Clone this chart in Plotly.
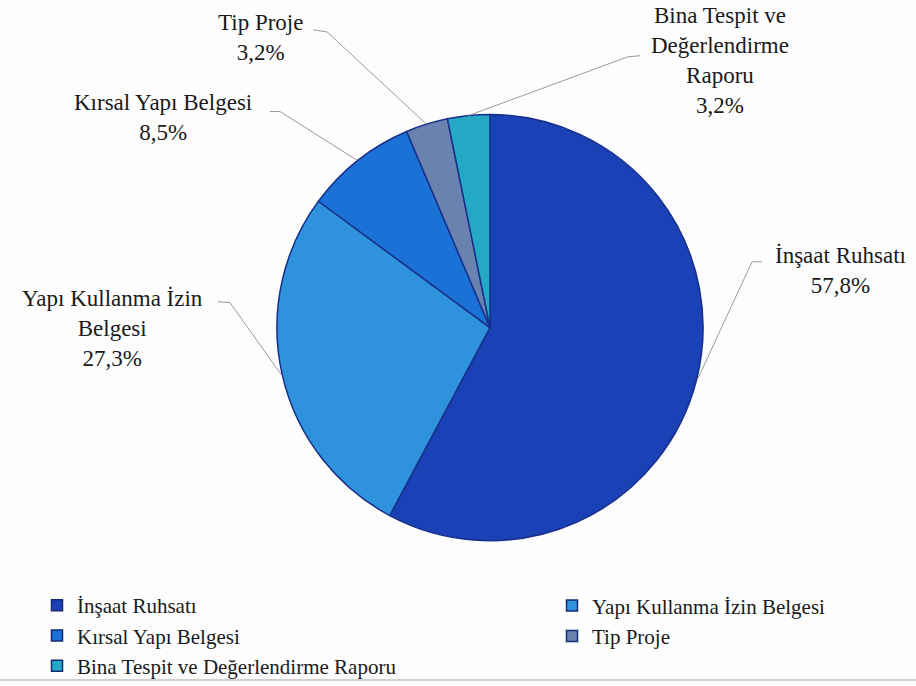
import math
import plotly.graph_objects as go

# Permit types and their shares (%)
categories = ["İnşaat Ruhsatı", "Yapı Kullanma İzin Belgesi", "Kırsal Yapı Belgesi",
              "Tip Proje", "Bina Tespit ve Değerlendirme Raporu"]
shares = [57.8, 27.3, 8.5, 3.2, 3.2]
label_texts = ["İnşaat Ruhsatı", "Yapı Kullanma İzin<br>Belgesi", "Kırsal Yapı Belgesi",
               "Tip Proje", "Bina Tespit ve<br>Değerlendirme<br>Raporu"]
colors = ["#1a42b6", "#2e93dc", "#1a72d6", "#6a82b0", "#25a8c6"]
legend_column = ["legend", "legend2", "legend", "legend2", "legend"]

W, H = 916, 686
CX, CY, R = 490, 329, 214  # pie centre and radius in pixels
SERIF = "Liberation Serif, Times New Roman, serif"

# text block centre and leader-line elbow / end (pixels) for each outside label
label_pos = [(840, 272), (112, 330), (163, 118), (260, 38), (720, 61)]
elbows = [((752, 263), (762, 263)), ((230, 304), (218, 303)), ((280, 112), (270, 112)),
          ((327, 32), (313, 30)), ((628, 57), (640, 56))]


def px(x):
    return x / W


def py(y):
    return 1 - y / H


fig = go.Figure(go.Pie(
    labels=categories,
    values=shares,
    sort=False,
    direction="clockwise",
    rotation=0,
    textinfo="none",
    hoverinfo="label+percent",
    showlegend=False,
    marker=dict(colors=colors, line=dict(color="#18308a", width=1.5)),
    domain=dict(x=[px(CX - R), px(CX + R)], y=[py(CY + R), py(CY - R)]),
))

# legend entries, laid out in two columns
for cat, col, leg in zip(categories, colors, legend_column):
    fig.add_trace(go.Scatter(
        x=[None], y=[None], mode="markers", name=cat, legend=leg,
        marker=dict(symbol="square", size=11, color=col,
                    line=dict(color="#142a70", width=1.5)),
        hoverinfo="skip",
    ))

annotations = []
shapes = []
total = sum(shares)
cum = 0.0
for i, v in enumerate(shares):
    mid = (cum + v / 2) / total * 2 * math.pi
    cum += v
    ex = CX + R * math.sin(mid)
    ey = CY - R * math.cos(mid)
    (ax, ay), (bx, by) = elbows[i]
    shapes.append(dict(
        type="path", xref="paper", yref="paper",
        path=f"M{px(ex)},{py(ey)} L{px(ax)},{py(ay)} L{px(bx)},{py(by)}",
        line=dict(color="#9a9a9a", width=1),
    ))
    tx, ty = label_pos[i]
    annotations.append(dict(
        x=px(tx), y=py(ty), xref="paper", yref="paper",
        text=f"{label_texts[i]}<br>{str(v).replace('.', ',')}%",
        showarrow=False, xanchor="center", yanchor="middle", align="center",
        font=dict(family=SERIF, size=23, color="#1a1a1a"),
    ))

# thin rule along the bottom edge
shapes.append(dict(type="line", xref="paper", yref="paper", x0=0, x1=1,
                   y0=py(683), y1=py(683), line=dict(color="#d0d0d0", width=2)))

legend_style = dict(
    orientation="v", yanchor="top", xanchor="left",
    font=dict(family=SERIF, size=21, color="#1a1a1a"),
    bgcolor="rgba(0,0,0,0)", itemclick=False, itemdoubleclick=False,
)

fig.update_layout(
    width=W, height=H,
    margin=dict(l=0, r=0, t=0, b=0),
    paper_bgcolor="#fdfdfd",
    plot_bgcolor="#fdfdfd",
    xaxis=dict(visible=False),
    yaxis=dict(visible=False),
    legend=dict(x=px(37), y=py(588), **legend_style),
    legend2=dict(x=px(552), y=py(588), **legend_style),
    annotations=annotations,
    shapes=shapes,
)

fig.write_html("out.html")
